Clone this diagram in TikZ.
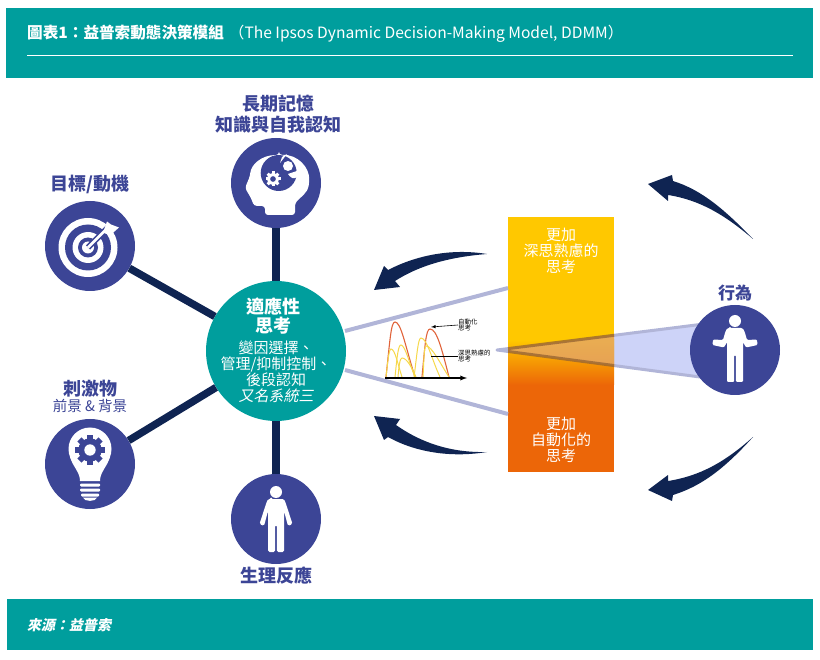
\documentclass[tikz,border=0pt]{standalone}
\usepackage{fontspec}
\setmainfont{Noto Sans CJK TC}
\newfontfamily\slantfont[FakeSlant=0.2]{Noto Sans CJK TC}
\usepackage{xcolor}
\usetikzlibrary{calc}
\definecolor{tealbar}{HTML}{009E9D}
\definecolor{discblue}{HTML}{3C4596}
\definecolor{navyline}{HTML}{0F2452}
\definecolor{conefill}{HTML}{CDD3F8}
\definecolor{coneedge}{HTML}{B1B5D8}
\definecolor{barup}{HTML}{FFC800}
\definecolor{bardown}{HTML}{EC6608}
\definecolor{redcurve}{HTML}{E0633A}
\definecolor{yellowcurve}{HTML}{F6D84A}
\tikzset{
  disc/.style={circle,fill=discblue,minimum size=90pt,inner sep=0pt},
  spoke/.style={navyline,line width=7.5pt},
  ray/.style={coneedge,line width=4pt},
  caption/.style={text=discblue,font=\bfseries\fontsize{18}{21}\selectfont,align=center,inner sep=0pt},
  bartext/.style={text=white,font=\fontsize{15}{16.2}\selectfont,align=center,inner sep=0pt},
  chartnote/.style={text=black,font=\fontsize{6.5}{6.5}\selectfont,align=left,anchor=west,inner sep=0pt},
}
\newcommand{\gearicon}[4]{% centre, outer radius, colour, hole colour
  \begin{scope}[shift={#1}]
    \fill[#3] (0,0) circle [radius=#2*0.78pt];
    \foreach \a in {0,45,...,315}
      \fill[#3,rotate=\a] (-#2*0.2,0) rectangle (#2*0.2,-#2);
    \fill[#4] (0,0) circle [radius=#2*0.38pt];
  \end{scope}
}
\begin{document}
\begin{tikzpicture}[x=1pt,y=-1pt]
  \useasboundingbox (0,0) rectangle (820,660);
  % bands
  \fill[tealbar] (6,8) rectangle (813,78);
  \fill[tealbar] (7,599) rectangle (813,650);
  \node[anchor=west,inner sep=0pt,text=white] (title) at (27,34)
    {\fontsize{15.6}{18}\selectfont\textbf{圖表1：益普索動態決策模組}\hspace{5pt}（The Ipsos Dynamic Decision-Making Model, DDMM）};
  \draw[white,line width=0.7pt] (27,55) -- (793,55);
  \node[anchor=west,inner sep=0pt,text=white] (source) at (27,625)
    {\slantfont\bfseries\fontsize{14}{16}\selectfont 來源：益普索};

  % cone from the action disc, under the bar
  \coordinate (apex) at (497,350);
  \coordinate (coneup) at (700,324.5);
  \coordinate (conedown) at (700,377);
  \filldraw[fill=conefill,draw=coneedge,line width=3pt,line join=round] (apex) -- (coneup) -- (conedown) -- cycle;

  % bar
  \shade[top color=barup,bottom color=bardown,middle color=barup!50!bardown,shading angle=0]
    (508,340) rectangle (614,385);
  \fill[barup] (508,217) rectangle (614,340);
  \fill[bardown] (508,385) rectangle (614,472);
  \begin{scope}
    \clip (508,217) rectangle (614,472);
    \filldraw[fill=brown!60!orange!70!white,draw=brown!80!black,line width=3pt,opacity=0.8] (apex) -- (coneup) -- (conedown) -- cycle;
  \end{scope}
  \node[bartext] (deep) at (561,251) {更加\\深思熟慮的\\思考};
  \node[bartext] (auto) at (561,440) {更加\\自動化的\\思考};

  % discs
  \node[disc] (memory) at (276,183) {};
  \node[disc] (goal) at (90,246) {};
  \node[disc] (stimulus) at (90,464) {};
  \node[disc] (body) at (276,519) {};
  \node[disc] (action) at (735,350) {};
  \node[circle,fill=tealbar,minimum size=140pt,inner sep=0pt] (centre) at (276,351) {};
  \draw[spoke] (centre) -- (memory);
  \draw[spoke] (centre) -- (goal);
  \draw[spoke] (centre) -- (stimulus);
  \draw[spoke] (centre) -- (body);

  % rays to the bar
  \coordinate (rayup) at (508,288);
  \coordinate (raydown) at (508,414);
  \draw[ray] (345,331) -- (rayup);
  \draw[ray] (345,370) -- (raydown);

  % labels
  \node[caption] (memorytext) at (278,114) {長期記憶\\知識與自我認知};
  \node[caption] (goaltext) at (90,184) {目標/動機};
  \node[caption] (bodytext) at (276,576) {生理反應};
  \node[caption,font=\bfseries\fontsize{17}{19}\selectfont] (actiontext) at (735,293) {行為};
  \node[caption] (stimtext) at (90,389) {刺激物};
  \node[caption,font=\fontsize{14.5}{16}\selectfont] (stimsub) at (90,406) {前景 \& 背景};
  \node[text=white,font=\bfseries\fontsize{18}{18.5}\selectfont,align=center,inner sep=0pt] (centrehead) at (273,316) {適應性\\思考};
  \node[text=white,font=\fontsize{15}{16}\selectfont,align=center,inner sep=0pt] (centretext) at (276,372)
    {變因選擇、\\管理/抑制控制、\\後段認知\\{\slantfont 又名系統三}};

  % mini chart
  \draw[redcurve,line width=1.1pt] (386,377) .. controls (390,340) and (391,322) .. (395,322) .. controls (401,322) and (405,345) .. (415,377);
  \draw[redcurve,line width=1.1pt] (422,377) .. controls (425,345) and (426,329) .. (430,329) .. controls (437,329) and (442,350) .. (449,377);
  \draw[yellowcurve,line width=1pt] (386,377) .. controls (388,360) and (389,349) .. (391,349) .. controls (395,349) and (398,365) .. (402,377);
  \draw[yellowcurve,line width=1pt] (395,377) .. controls (397,358) and (398,345) .. (401,345) .. controls (405,345) and (410,365) .. (415,377);
  \draw[yellowcurve,line width=1pt] (398,377) .. controls (399,365) and (400,358) .. (402,358) .. controls (407,358) and (412,368) .. (416,377);
  \draw[yellowcurve,line width=1pt] (414,377) .. controls (417,355) and (418,338) .. (421,338) .. controls (427,338) and (432,360) .. (440,377);
  \draw[yellowcurve,line width=1pt] (423,377) .. controls (424,360) and (424,346) .. (426,346) .. controls (432,346) and (441,365) .. (449,377);
  \coordinate (axisstart) at (385,378);
  \coordinate (axisend) at (467,378);
  \draw[black,line width=1.3pt,-latex] (axisstart) -- (axisend);
  \node[chartnote] (autonote) at (458,325) {自動化\\思考};
  \node[chartnote] (deepnote) at (458,356) {深思熟慮的\\思考};
  \coordinate (autotip) at (431,327);
  \coordinate (deeptip) at (431,356);
  \draw[black,line width=0.6pt,-latex] (autonote.west) -- (autotip);
  \draw[black,line width=0.6pt] (deepnote.west) -- (deeptip);

  % big curved arrows
  \fill[navyline] (753,239) .. controls (725,210) and (702,190) .. (673,181) -- (672,175) -- (648,184) -- (668,201) -- (668,195) .. controls (700,200) and (725,215) .. (753,239) -- cycle;
  \fill[navyline] (753,437) .. controls (725,468) and (702,486) .. (673,495) -- (672,501) -- (648,490) -- (668,475) -- (668,481) .. controls (700,476) and (725,462) .. (753,437) -- cycle;
  \fill[navyline] (487,254) .. controls (450,248) and (415,256) .. (388,270) -- (384,266) -- (374,290) -- (400,287) -- (395,281) .. controls (420,265) and (450,257) .. (487,254) -- cycle;
  \fill[navyline] (487,452) .. controls (450,453) and (420,442) .. (396,425) -- (400,419) -- (374,416) -- (384,440) -- (388,437) .. controls (415,452) and (450,458) .. (487,452) -- cycle;

  % head icon
  \begin{scope}[shift={(276,183)}]
    \fill[white,rounded corners=3pt] (3,-28) .. controls (22,-29) and (34,-15) .. (33,0) .. controls (32,9) and (25,14) .. (19,20) -- (19,32) -- (-11,32) -- (-11,23) -- (-22,23) -- (-25,15) -- (-31,5) -- (-26,-7) .. controls (-25,-18) and (-15,-28) .. (3,-28) -- cycle;
    \fill[discblue] (2.7,-10) circle [radius=18pt];
    \fill[white] (6,-26) -- (11,-29) -- (4,-20) -- cycle;
    \fill[white] (22,-7) .. controls (18,-2) and (14,-6) .. (12,-9) -- (21,-12) -- cycle;
    \fill[white] (12,-17) circle [radius=5pt];
    \gearicon{(-3,-4)}{7.5}{white}{discblue}
  \end{scope}

  % target icon
  \begin{scope}[shift={(88,247.5)}]
    \fill[white] (0,0) circle [radius=29.5pt];
    \fill[discblue] (0,0) circle [radius=23pt];
    \fill[white] (0,0) circle [radius=15.5pt];
    \fill[discblue] (0,0) circle [radius=10pt];
    \fill[white] (0,0) circle [radius=6pt];
    \draw[discblue,line width=6pt] (0,0) -- (23,-23);
    \draw[white,line width=2.6pt] (0,0) -- (20,-20);
    \fill[white] (15,-15) -- (19,-26) -- (23,-23) -- (31,-20) -- (22,-12) -- cycle;
  \end{scope}

  % bulb icon
  \begin{scope}[shift={(90,464)}]
    \fill[white] (0,-15) circle [radius=21.5pt];
    \fill[white] (-10,17) .. controls (-10,8) and (-17,3) .. (-20,-7) -- (20,-7) .. controls (17,3) and (10,8) .. (10,17) -- cycle;
    \fill[white,rounded corners=1pt] (-10,19.5) rectangle (10,22.5);
    \fill[white,rounded corners=1pt] (-10,24.5) rectangle (10,27.5);
    \fill[white,rounded corners=1pt] (-9,29.5) rectangle (9,32.5);
    \fill[white] (-7,33.5) .. controls (-6,38) and (6,38) .. (7,33.5) -- cycle;
    \gearicon{(0,-14)}{15}{discblue}{white}
  \end{scope}

  % standing person
  \begin{scope}[shift={(276,519)}]
    \fill[white] (0,-27) circle [radius=6pt];
    \fill[white,rounded corners=1.5pt] (-5,-20) -- (5,-20) .. controls (8,-20) and (9,-18) .. (10,-15) -- (16.5,5) -- (12,7) -- (8,-8) -- (8,33) -- (0.8,33) -- (0.8,6) -- (-0.8,6) -- (-0.8,33) -- (-8,33) -- (-8,-8) -- (-12,7) -- (-16.5,5) -- (-10,-15) .. controls (-9,-18) and (-8,-20) .. (-5,-20) -- cycle;
  \end{scope}

  % shrugging person
  \begin{scope}[shift={(735,350)}]
    \fill[white] (0,-29) circle [radius=6pt];
    \fill[white,rounded corners=1.2pt] (-5,-22) -- (5,-22) .. controls (8,-22) and (9,-20) .. (10,-17) -- (12,-10) -- (22,-10.5) -- (22.5,-5) -- (11,-2.5) -- (8,-8) -- (8,32) -- (0.8,32) -- (0.8,5) -- (-0.8,5) -- (-0.8,32) -- (-8,32) -- (-8,-8) -- (-11,-2.5) -- (-22.5,-5) -- (-22,-10.5) -- (-12,-10) -- (-10,-17) .. controls (-9,-20) and (-8,-22) .. (-5,-22) -- cycle;
  \end{scope}
\end{tikzpicture}
\end{document}
